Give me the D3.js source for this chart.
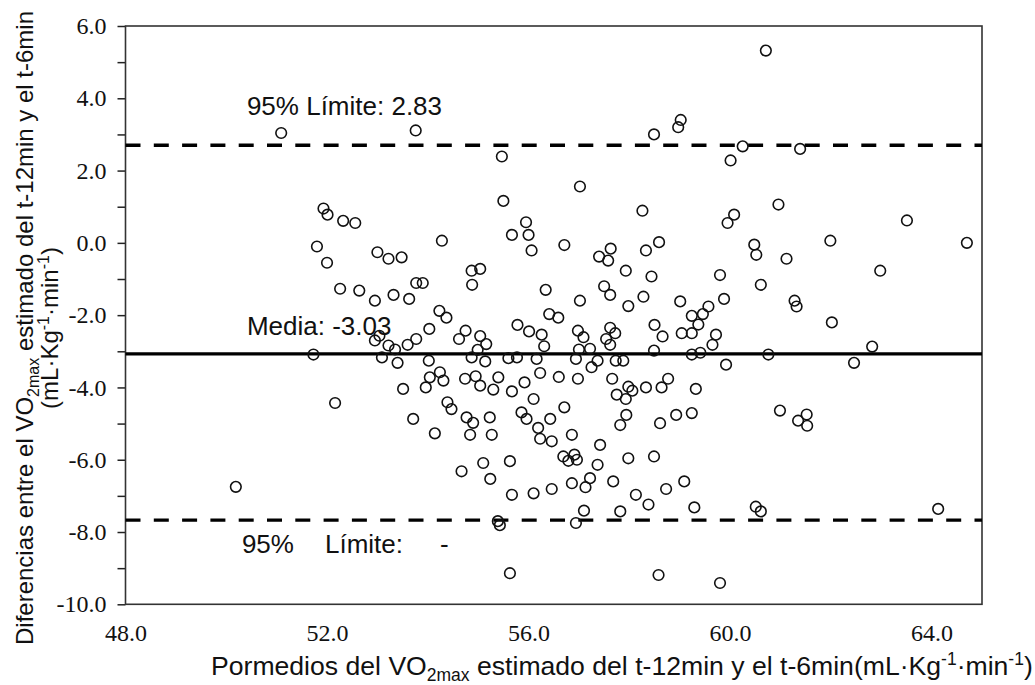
<!DOCTYPE html>
<html>
<head>
<meta charset="utf-8">
<script src="https://cdn.jsdelivr.net/npm/d3@7"></script>
<style>
    body { margin: 0; background: #fff; }
    .tick text { font-family: "Liberation Serif", "Times New Roman", serif; font-size: 24px; fill: #111; }
    .lbl { font-family: "Liberation Sans", Arial, sans-serif; font-size: 26px; fill: #111; }
</style>
</head>
<body>
<svg id="chart" width="1035" height="685"></svg>
<script>
/**
 * Averages of the estimated VO2max of both tests (x).
 */
const avgVO2 = [
    51.09, 53.76, 55.47, 55.50, 51.93, 52.01, 52.32, 52.56, 51.80, 52.00,
    54.28, 55.67, 55.95, 56.00, 56.06, 53.00, 53.22, 53.48, 52.26, 52.64,
    52.95, 53.32, 53.63, 53.77, 53.90, 54.87, 55.04, 54.88, 56.34, 56.41,
    54.23, 54.37, 55.78,
    60.71, 58.49, 58.97, 59.02, 60.25, 60.01, 61.39, 57.02, 58.26, 60.08,
    59.95, 60.96, 63.51, 64.70, 61.99, 56.71, 57.63, 57.40, 57.58, 58.59,
    58.33, 60.48, 60.52, 61.12, 62.98, 57.93, 58.44, 59.80, 60.61, 57.50,
    57.62, 57.02, 57.98, 58.28, 59.01, 59.88, 59.57, 59.46, 59.24, 61.28,
    61.32, 62.02, 56.59, 58.50,
    51.73, 52.16, 50.19, 52.95, 53.04, 53.22, 53.35, 53.09, 53.40, 53.60,
    53.77, 54.03, 54.02, 54.62, 54.75, 55.04, 55.16, 54.99, 54.87, 55.14,
    55.60, 55.77, 56.01, 56.26, 56.31, 56.16, 56.23, 56.60, 54.04, 53.96,
    54.24, 54.31, 53.51, 54.74, 54.95, 55.04, 55.30, 55.40, 55.67, 55.92,
    56.10, 54.39, 54.47, 53.71, 54.14, 54.77, 54.90, 54.84, 55.23, 55.27,
    55.86, 55.96, 56.19, 56.23, 56.43, 56.46, 54.67, 55.10, 55.24, 55.63,
    55.67, 56.10, 56.46, 55.39, 55.43, 55.63,
    56.98, 57.09, 57.62, 57.72, 57.54, 57.62, 57.00, 57.22, 56.94, 57.37,
    57.25, 57.73, 57.88, 58.66, 58.49, 59.04, 59.24, 59.37, 59.72, 59.65,
    59.24, 59.41, 59.92, 60.76, 62.82, 62.46, 56.98, 57.66, 57.75, 57.98,
    58.06, 57.93, 58.33, 58.64, 58.77, 59.32, 56.71, 57.94, 57.82, 58.61,
    58.93, 59.24, 60.99, 61.35, 61.52, 61.53, 56.86, 56.69, 56.79, 56.91,
    56.96, 57.42, 57.37, 57.98, 58.49, 56.86, 57.13, 57.22, 57.68, 58.13,
    58.38, 58.73, 59.09, 59.29, 57.10, 56.94, 57.82, 60.51, 60.61, 64.13,
    58.58, 59.80
];

/**
 * Differences between both tests (y), same order as avgVO2.
 */
const diffVO2 = [
    3.04, 3.11, 2.39, 1.16, 0.95, 0.78, 0.61, 0.55, -0.10, -0.55,
    0.06, 0.22, 0.57, 0.22, -0.21, -0.26, -0.44, -0.40, -1.27, -1.32,
    -1.60, -1.44, -1.55, -1.11, -1.11, -0.77, -0.72, -1.16, -1.30, -1.97,
    -1.88, -2.07, -2.27,
    5.32, 3.00, 3.20, 3.40, 2.67, 2.28, 2.60, 1.56, 0.89, 0.78,
    0.55, 1.06, 0.62, 0.00, 0.06, -0.06, -0.16, -0.38, -0.49, 0.02,
    -0.21, -0.05, -0.33, -0.44, -0.77, -0.77, -0.93, -0.89, -1.16, -1.20,
    -1.44, -1.60, -1.75, -1.49, -1.62, -1.55, -1.76, -1.97, -2.02, -1.60,
    -1.76, -2.20, -2.07, -2.27,
    -3.09, -4.43, -6.75, -2.70, -2.57, -2.84, -2.95, -3.17, -3.32, -2.82,
    -2.66, -2.38, -3.26, -2.66, -2.43, -2.58, -2.80, -2.96, -3.17, -3.28,
    -3.19, -3.17, -2.45, -2.54, -2.86, -3.21, -3.60, -3.71, -3.72, -4.00,
    -3.58, -3.81, -4.04, -3.76, -3.69, -3.95, -4.06, -3.72, -4.11, -3.86,
    -4.32, -4.41, -4.60, -4.87, -5.27, -4.83, -4.98, -5.31, -4.83, -5.31,
    -4.69, -4.87, -5.12, -5.42, -4.87, -5.49, -6.32, -6.09, -6.53, -6.04,
    -6.97, -6.93, -6.81, -7.70, -7.81, -9.14,
    -2.43, -2.61, -2.35, -2.50, -2.66, -2.82, -2.95, -2.93, -3.21, -3.26,
    -3.44, -3.26, -3.26, -2.59, -2.98, -2.50, -2.50, -2.26, -2.54, -2.82,
    -3.09, -3.04, -3.37, -3.09, -2.87, -3.32, -3.76, -3.76, -4.20, -3.98,
    -4.09, -4.32, -4.00, -4.00, -3.76, -4.04, -4.55, -4.76, -5.04, -4.99,
    -4.76, -4.71, -4.64, -4.92, -4.75, -5.06, -5.31, -5.91, -6.03, -5.86,
    -6.00, -5.59, -6.14, -5.96, -5.91, -6.65, -6.76, -6.51, -6.60, -6.97,
    -7.24, -6.81, -6.60, -7.32, -7.41, -7.75, -7.43, -7.30, -7.43, -7.36,
    -9.19, -9.41
];

/**
 * Tick values of both axes.
 */
const xTicks = [48, 52, 56, 60, 64];
const yTicks = d3.range(-10, 7, 1);

/**
 * Reference lines as drawn (mean and 95% limits) and their labels.
 */
const meanLine = -3.07;
const limitLines = [2.70, -7.67];
const upperLabel = "95% Límite: 2.83";
const meanLabel = "Media: -3.03";
const lowerLabel = ["95%", "Límite:", "-"];

const margin = {left: 125.5, top: 26, right: 53, bottom: 80.7};
const width = 1035 - margin.left - margin.right;
const height = 685 - margin.top - margin.bottom;

let svg = d3.select("#chart");
let g = svg.append("g").attr("transform", `translate(${margin.left},${margin.top})`);

let x = d3.scaleLinear().domain([48, 65]).range([0, width]);
let y = d3.scaleLinear().domain([-10, 6]).range([height, 0]);

// axes
g.append("g")
    .attr("transform", `translate(0,${height})`)
    .call(d3.axisBottom(x).tickValues(xTicks).tickSize(0).tickPadding(20)
        .tickFormat(function (d) { return d.toFixed(1); }))
    .call(function (a) { a.select(".domain").remove(); });

g.append("g")
    .call(d3.axisLeft(y).tickValues(yTicks).tickSize(8).tickSizeOuter(0).tickPadding(11)
        .tickFormat(function (d) { return d % 2 === 0 ? d.toFixed(1) : ""; }))
    .call(function (a) {
        a.select(".domain").remove();
        a.selectAll(".tick line").attr("stroke", "#222").attr("stroke-width", 1.5);
    });

// frame round the plot
g.append("rect")
    .attr("width", width)
    .attr("height", height)
    .attr("fill", "none")
    .attr("stroke", "#333")
    .attr("stroke-width", 1.6);

// mean and limit lines
g.append("line")
    .attr("x1", 0).attr("x2", width)
    .attr("y1", y(meanLine)).attr("y2", y(meanLine))
    .attr("stroke", "#000")
    .attr("stroke-width", 3.2);

g.selectAll(".limit")
    .data(limitLines)
    .enter().append("line")
    .attr("class", "limit")
    .attr("x1", 0).attr("x2", width)
    .attr("y1", function (d) { return y(d); })
    .attr("y2", function (d) { return y(d); })
    .attr("stroke", "#000")
    .attr("stroke-width", 3.4)
    .attr("stroke-dasharray", "15,13.3");

// points
let points = avgVO2.map(function (v, i) { return {avg: v, diff: diffVO2[i]}; });
g.selectAll(".pt")
    .data(points)
    .enter().append("circle")
    .attr("class", "pt")
    .attr("cx", function (d) { return x(d.avg); })
    .attr("cy", function (d) { return y(d.diff); })
    .attr("r", 5.3)
    .attr("fill", "none")
    .attr("stroke", "#111")
    .attr("stroke-width", 1.6);

// labels of the lines
const labelX = x(50.41);
g.append("text").attr("class", "lbl")
    .attr("x", labelX).attr("y", y(limitLines[0]) - 30)
    .text(upperLabel);
g.append("text").attr("class", "lbl")
    .attr("x", labelX).attr("y", y(meanLine) - 19)
    .text(meanLabel);
let low = g.append("text").attr("class", "lbl")
    .attr("x", labelX - 5).attr("y", y(limitLines[1]) + 33);
low.append("tspan").text(lowerLabel[0]);
low.append("tspan").attr("dx", 31).text(lowerLabel[1]);
low.append("tspan").attr("dx", 37).text(lowerLabel[2]);

// axis titles
let xt = svg.append("text").attr("class", "lbl")
    .attr("x", 211).attr("y", 675)
    .style("font-size", "26.6px");
xt.append("tspan").text("Pormedios del VO");
xt.append("tspan").attr("font-size", 17.5).attr("dy", 6).text("2max");
xt.append("tspan").attr("dy", -6).text(" estimado del t-12min y el t-6min(mL·Kg");
xt.append("tspan").attr("font-size", 17.5).attr("dy", -10).text("-1");
xt.append("tspan").attr("dy", 10).text("·min");
xt.append("tspan").attr("font-size", 17.5).attr("dy", -10).text("-1");
xt.append("tspan").attr("dy", 10).text(")");

let yt = svg.append("text").attr("class", "lbl")
    .attr("transform", "translate(33,328) rotate(-90)")
    .attr("text-anchor", "middle")
    .style("font-size", "24px");
yt.append("tspan").text("Diferencias entre el VO");
yt.append("tspan").attr("font-size", 16).attr("dy", 6).text("2max");
yt.append("tspan").attr("dy", -6).text(" estimado del t-12min y el t-6min");

let yt2 = svg.append("text").attr("class", "lbl")
    .attr("transform", "translate(58,328) rotate(-90)")
    .attr("text-anchor", "middle")
    .style("font-size", "24px");
yt2.append("tspan").text("(mL·Kg");
yt2.append("tspan").attr("font-size", 16).attr("dy", -9).text("-1");
yt2.append("tspan").attr("dy", 9).text("·min");
yt2.append("tspan").attr("font-size", 16).attr("dy", -9).text("-1");
yt2.append("tspan").attr("dy", 9).text(")");
</script>
</body>
</html>
